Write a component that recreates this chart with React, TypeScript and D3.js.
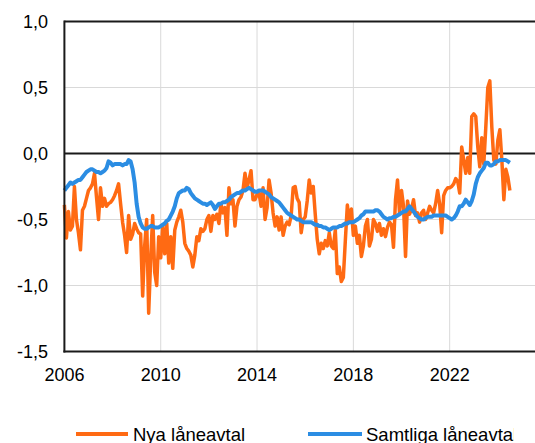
import React from "react";
import * as d3 from "d3";

const START_YEAR = 2006;
const xTicks = [2006, 2010, 2014, 2018, 2022];
const yTicks = [1.0, 0.5, 0.0, -0.5, -1.0, -1.5];
const seriesNames = ["Nya låneavtal", "Samtliga låneavtal"];
const seriesColors = ["#FF6A13", "#2B8DE3"];

// Monthly values from Jan 2006
const nyaLaneavtal = [
  -0.39, -0.64, -0.44, -0.58, -0.55, -0.25, -0.50, -0.60, -0.73, -0.43, -0.40, -0.34,
  -0.28, -0.26, -0.23, -0.15, -0.33, -0.50, -0.26, -0.40, -0.34, -0.40, -0.38, -0.37,
  -0.35, -0.32, -0.28, -0.23, -0.38, -0.52, -0.62, -0.75, -0.47, -0.65, -0.61, -0.53,
  -0.57, -0.60, -0.61, -1.08, -0.70, -0.50, -1.21, -0.80, -0.47, -0.90, -1.00, -0.63,
  -0.79, -0.55, -0.76, -0.53, -0.83, -0.63, -0.87, -0.58, -0.52, -0.48, -0.43, -0.52,
  -0.68, -0.72, -0.74, -0.77, -0.86, -0.77, -0.63, -0.66, -0.57, -0.59, -0.57, -0.50,
  -0.47, -0.59, -0.47, -0.50, -0.46, -0.53, -0.38, -0.45, -0.41, -0.62, -0.26, -0.38,
  -0.35, -0.55, -0.40, -0.35, -0.33, -0.28, -0.15, -0.26, -0.20, -0.13, -0.35, -0.35,
  -0.31, -0.30, -0.40, -0.26, -0.50, -0.41, -0.20, -0.30, -0.45, -0.55, -0.48, -0.58,
  -0.48, -0.62, -0.55, -0.52, -0.54, -0.47, -0.26, -0.25, -0.34, -0.37, -0.60, -0.50,
  -0.48, -0.36, -0.20, -0.30, -0.25, -0.46, -0.65, -0.76, -0.68, -0.72, -0.66, -0.70,
  -0.60, -0.70, -0.72, -0.58, -0.91, -0.86, -0.97, -0.94, -0.66, -0.39, -0.52, -0.42,
  -0.62, -0.55, -0.68, -0.62, -0.78, -0.70, -0.55, -0.50, -0.70, -0.65, -0.50, -0.53,
  -0.59, -0.53, -0.62, -0.57, -0.63, -0.56, -0.52, -0.54, -0.71, -0.35, -0.20, -0.45,
  -0.28, -0.40, -0.78, -0.36, -0.46, -0.42, -0.35, -0.47, -0.45, -0.52, -0.45, -0.43,
  -0.50, -0.45, -0.40, -0.43, -0.45, -0.38, -0.28, -0.38, -0.60, -0.32, -0.28, -0.26,
  -0.26, -0.25, -0.23, -0.19, -0.21, -0.30, 0.05, -0.05, -0.15, -0.03, -0.15, 0.28,
  0.30, 0.28, 0.05, -0.10, 0.12, -0.08, 0.20, 0.50, 0.55, 0.20, -0.05, -0.08,
  0.10, 0.18, -0.05, -0.35, -0.12, -0.18, -0.28,
];

const samtligaLaneavtal = [
  -0.28, -0.26, -0.24, -0.22, -0.23, -0.22, -0.21, -0.20, -0.20, -0.18, -0.16, -0.14,
  -0.13, -0.12, -0.12, -0.13, -0.14, -0.14, -0.15, -0.14, -0.13, -0.11, -0.06, -0.07,
  -0.09, -0.08, -0.08, -0.08, -0.08, -0.09, -0.08, -0.08, -0.05, -0.06, -0.12, -0.22,
  -0.38, -0.48, -0.53, -0.56, -0.57, -0.57, -0.56, -0.55, -0.55, -0.56, -0.56, -0.56,
  -0.55, -0.54, -0.53, -0.51, -0.50, -0.47, -0.44, -0.40, -0.34, -0.30, -0.29, -0.28,
  -0.28, -0.26, -0.27, -0.30, -0.32, -0.34, -0.35, -0.36, -0.37, -0.38, -0.38, -0.39,
  -0.38, -0.37, -0.39, -0.42, -0.40, -0.38, -0.38, -0.37, -0.37, -0.36, -0.35, -0.33,
  -0.32, -0.31, -0.30, -0.30, -0.29, -0.28, -0.28, -0.27, -0.26, -0.27, -0.28, -0.29,
  -0.29, -0.28, -0.28, -0.28, -0.29, -0.30, -0.31, -0.33, -0.34, -0.35, -0.36, -0.37,
  -0.39, -0.41, -0.43, -0.45, -0.46, -0.47, -0.48, -0.49, -0.50, -0.50, -0.51, -0.52,
  -0.52, -0.52, -0.52, -0.52, -0.53, -0.54, -0.54, -0.55, -0.55, -0.56, -0.56, -0.57,
  -0.58, -0.57, -0.56, -0.56, -0.56, -0.55, -0.55, -0.54, -0.53, -0.53, -0.52, -0.52,
  -0.52, -0.51, -0.50, -0.49, -0.47, -0.46, -0.44, -0.44, -0.44, -0.44, -0.44, -0.43,
  -0.43, -0.44, -0.46, -0.48, -0.49, -0.50, -0.49, -0.49, -0.48, -0.48, -0.47, -0.46,
  -0.45, -0.44, -0.44, -0.42, -0.40, -0.42, -0.44, -0.46, -0.48, -0.49, -0.50, -0.50,
  -0.49, -0.48, -0.48, -0.48, -0.47, -0.47, -0.47, -0.47, -0.47, -0.47, -0.47, -0.48,
  -0.49, -0.50, -0.49, -0.47, -0.44, -0.40, -0.40, -0.38, -0.35, -0.37, -0.39, -0.36,
  -0.31, -0.23, -0.18, -0.15, -0.13, -0.11, -0.07, -0.07, -0.09, -0.09, -0.08, -0.06,
  -0.06, -0.05, -0.05, -0.05, -0.05, -0.06, -0.07,
];

const W = 535;
const H = 443;
const FONT = "'Liberation Sans', Arial, sans-serif";

export default function App() {
  const left = 64.4;
  const top = 21.5;
  const bottom = 351.5;
  const right = left + 20 * 24.08; // 2026, beyond visible area

  const x = d3.scaleLinear().domain([2006, 2026]).range([left, right]);
  const y = d3.scaleLinear().domain([-1.5, 1.0]).range([bottom, top]);

  const toPoints = (arr: number[]) =>
    arr.map((v, i) => [START_YEAR + i / 12, v] as [number, number]);

  const line = d3
    .line<[number, number]>()
    .x((d) => x(d[0]))
    .y((d) => y(d[1]))
    .curve(d3.curveLinear);

  const fmt = (v: number) => d3.format(".1f")(v).replace(".", ",").replace("−", "-");

  return (
    <svg
      width={W}
      height={H}
      style={{ position: "absolute", left: 0, top: 0, background: "#fff" }}
      fontFamily={FONT}
    >
      <defs>
        <clipPath id="legendClip">
          <rect x={0} y={0} width={514} height={H} />
        </clipPath>
      </defs>
      {/* grid */}
      {yTicks
        .filter((t) => t !== 1.0 && t !== 0 && t !== -1.5)
        .map((t) => (
          <line key={"gy" + t} x1={left} x2={W} y1={y(t)} y2={y(t)} stroke="#d9d9d9" strokeWidth={1} />
        ))}
      {xTicks
        .filter((t) => t !== 2006)
        .map((t) => (
          <line key={"gx" + t} x1={x(t)} x2={x(t)} y1={top} y2={bottom} stroke="#d9d9d9" strokeWidth={1} />
        ))}

      {/* top and zero lines */}
      <line x1={left} x2={W} y1={y(1.0)} y2={y(1.0)} stroke="#1a1a1a" strokeWidth={2} />
      <line x1={left} x2={W} y1={y(0)} y2={y(0)} stroke="#1a1a1a" strokeWidth={2} />

      {/* series */}
      <path
        d={line(toPoints(nyaLaneavtal)) || ""}
        fill="none"
        stroke={seriesColors[0]}
        strokeWidth={3.5}
        strokeLinejoin="round"
      />
      <path
        d={line(toPoints(samtligaLaneavtal)) || ""}
        fill="none"
        stroke={seriesColors[1]}
        strokeWidth={4}
        strokeLinejoin="round"
      />

      {/* axes */}
      <line x1={left} x2={left} y1={top - 1} y2={bottom + 1} stroke="#1a1a1a" strokeWidth={2} />
      <line x1={left - 1} x2={W} y1={bottom} y2={bottom} stroke="#1a1a1a" strokeWidth={2} />

      {yTicks.map((t) => (
        <text key={"yt" + t} x={48} y={y(t)} dy="0.36em" textAnchor="end" fontSize={18} fill="#000">
          {fmt(t)}
        </text>
      ))}
      {xTicks.map((t) => (
        <text key={"xt" + t} x={x(t)} y={381} textAnchor="middle" fontSize={18} fill="#000">
          {t}
        </text>
      ))}

      {/* legend */}
      <line x1={76} x2={128} y1={434} y2={434} stroke={seriesColors[0]} strokeWidth={4} />
      <text x={133} y={440.5} fontSize={18.5} fill="#000">
        {seriesNames[0]}
      </text>
      <line x1={308} x2={362} y1={434} y2={434} stroke={seriesColors[1]} strokeWidth={4} />
      <text x={366} y={440.5} fontSize={18.5} fill="#000" clipPath="url(#legendClip)">
        {seriesNames[1]}
      </text>
    </svg>
  );
}
